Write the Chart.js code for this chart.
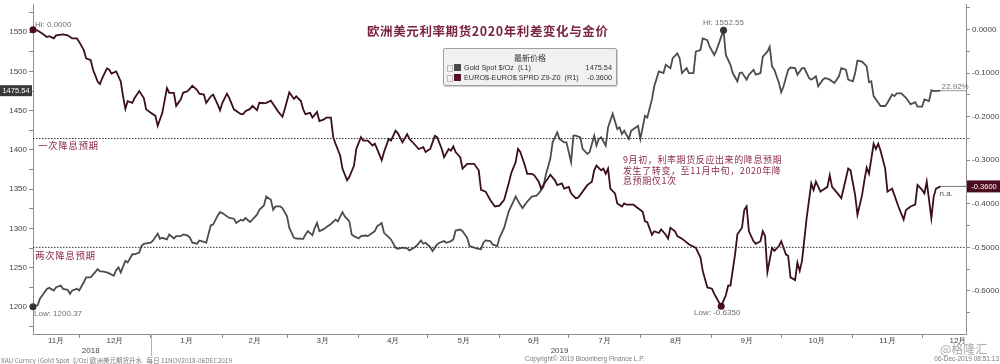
<!DOCTYPE html>
<html>
<head>
<meta charset="utf-8">
<script src="https://cdn.jsdelivr.net/npm/chart.js@4.4.1/dist/chart.umd.min.js"></script>
<style>
html, body { margin: 0; padding: 0; background: #fff; }
#wrap { position: relative; width: 1000px; height: 364px; overflow: hidden; font-family: "Liberation Sans", Arial, sans-serif; }
#chart { position: absolute; left: 0; top: 0; }
.t { position: absolute; white-space: nowrap; }
.cn { font-family: "Noto Sans CJK SC", sans-serif; }
#title { left: 367px; top: 21px; font-size: 12.5px; color: #7b2343; letter-spacing: 0.6px; font-weight: bold; }
#legend { position: absolute; left: 443px; top: 48px; width: 172px; height: 36px; background: #f1f1f1; border: 1px solid #a0a0a0; border-radius: 2px; box-shadow: 1px 1px 1px #ccc; font-size: 7.3px; color: #333; }
#legend .lh { position: absolute; left: 0; right: 0; top: 3px; text-align: center; font-family: "Noto Sans CJK SC", sans-serif; font-size: 8px; }
#legend .row { position: absolute; left: 3px; right: 4px; height: 10px; line-height: 10px; }
#legend .ic { position: absolute; left: 0; top: 2px; width: 4px; height: 5px; border: 1px solid #bbb; }
#legend .sq { position: absolute; left: 7px; top: 1px; width: 7px; height: 7px; }
#legend .lb { position: absolute; left: 17px; }
#legend .v { position: absolute; right: 0; }
.cut { font-size: 9.5px; color: #8b2b49; letter-spacing: 0.6px; }
#note { left: 623px; top: 155px; font-size: 9px; line-height: 10.5px; color: #8b2b49; letter-spacing: 0.6px; }
.foot { font-size: 6.5px; color: #7a7a7a; top: 355px; }
#mark { left: 940px; top: 340px; font-size: 12px; color: #a8a8a8; }
</style>
</head>
<body>
<div id="wrap">
  <canvas id="chart" width="1000" height="364"></canvas>
  <div class="t cn" id="title">欧洲美元利率期货2020年利差变化与金价</div>
  <div id="legend">
    <div class="lh">最新价格</div>
    <div class="row" style="top:14px"><span class="ic"></span><span class="sq" style="background:#4a4a4a"></span><span class="lb">Gold Spot $/Oz&nbsp; (L1)</span><span class="v" id="lastGold"></span></div>
    <div class="row" style="top:24px"><span class="ic"></span><span class="sq" style="background:#5a0f24"></span><span class="lb">EURO$-EURO$ SPRD Z9-Z0&nbsp; (R1)</span><span class="v" id="lastSpread"></span></div>
  </div>
  <div class="t cn cut" style="left:38px;top:138px">一次降息预期</div>
  <div class="t cn cut" style="left:35px;top:248px">两次降息预期</div>
  <div class="t cn" id="note">9月初，利率期货反应出来的降息预期<br>发生了转变，至11月中旬，2020年降<br>息预期仅1次</div>
  <div class="t foot cn" style="left:1px">XAU Curncy (Gold Spot&nbsp; $/Oz) 欧洲美元期货升水&nbsp;&nbsp; 每日 11NOV2018-06DEC2019</div>
  <div class="t foot" style="left:525px">Copyright© 2019 Bloomberg Finance L.P.</div>
  <div class="t foot" style="right:1px">06-Dec-2019 08:51:13</div>
  <div class="t cn" id="mark">@格隆汇</div>
</div>
<script>
// x values are days counted from 11 Nov 2018
const goldDays = [0,2,3,4,6,7,9,10,12,13,15,16,17,19,20,22,23,25,26,28,29,30,32,33,35,36,37,38,40,41,43,44,46,47,48,51,52,54,55,56,58,59,61,62,64,65,67,68,69,71,72,74,75,77,78,80,81,82,84,85,87,88,90,91,92,94,95,97,98,100,101,103,104,105,107,108,110,111,113,114,117,118,119,121,122,123,124,126,127,129,131,132,134,135,137,138,139,141,142,144,145,147,148,149,151,152,154,155,157,158,160,162,163,165,166,168,169,170,172,173,175,176,178,179,181,182,183,185,186,188,189,191,192,194,195,196,198,199,201,
  202,204,206,208,209,211,212,214,216,218,219,221,222,224,225,227,228,230,231,233,234,235,237,238,240,241,243,244,245,246,248,249,251,253,254,255,256,258,259,261,262,263,265,266,268,269,271,273,274,276,277,279,280,281,283,284,286,287,289,290,292,293,295,296,297,299,300,302,303,305,306,307,309,310,312,313,315,316,318,319,320,321,323,324,325,327,328,330,331,333,334,336,337,339,340,342,343,345,347,349,350,352,353,355,356,357,359,361,362,363,364,366,367,369,370,372,373,374,376,378,379,380,382,383,385,386,388,389,390,393];
const goldValues = [1200.37,1202.0,1210.4,1214.6,1223.0,1224.3,1220.9,1225.1,1227.2,1223.0,1221.7,1216.7,1220.9,1223.0,1220.9,1231.4,1237.7,1237.7,1241.1,1248.2,1245.3,1245.3,1244.0,1242.7,1239.8,1246.9,1250.3,1244.0,1258.7,1256.6,1267.1,1267.1,1269.2,1277.6,1280.5,1281.8,1284.7,1293.5,1286.8,1288.1,1286.0,1292.3,1287.2,1290.2,1290.2,1292.3,1291.0,1288.1,1281.8,1280.5,1284.7,1283.0,1281.8,1304.0,1304.9,1316.6,1320.8,1319.6,1315.4,1313.3,1312.4,1307.0,1311.2,1309.9,1313.3,1308.2,1311.2,1317.5,1323.8,1329.2,1340.6,1336.4,1323.8,1328.0,1328.0,1325.9,1315.4,1300.7,1288.1,1287.2,1286.8,1292.3,1296.5,1291.4,1300.7,1307.0,1296.5,1299.4,1301.5,1305.7,1311.2,1309.1,1320.8,1315.4,1309.1,1292.3,1290.2,1287.2,1290.2,1291.0,1290.2,1294.4,1296.5,1302.8,1307.0,1294.4,1288.9,1286.0,1275.5,1274.2,1275.5,1274.6,1272.1,1275.5,1277.6,1284.7,1280.5,1281.8,1276.3,1271.3,1279.7,1281.8,1283.9,1281.8,1283.9,1286.0,1297.3,1298.6,1296.5,1288.1,1277.6,1275.5,1274.6,1273.4,1281.8,1284.7,1283.9,1279.7,1277.6,
  1288.1,1300.7,1321.7,1334.3,1340.6,1330.1,1325.9,1334.3,1340.6,1341.8,1344.7,1353.1,1367.8,1388.8,1409.8,1422.4,1414.0,1409.8,1409.8,1384.6,1418.2,1418.2,1416.1,1401.4,1395.1,1397.2,1418.2,1405.6,1414.0,1416.1,1405.6,1428.7,1446.3,1426.6,1428.7,1420.3,1424.5,1414.0,1424.5,1428.7,1430.8,1414.0,1443.4,1441.3,1464.4,1481.2,1500.1,1498.0,1508.5,1504.3,1516.9,1523.2,1516.9,1498.0,1504.3,1498.0,1498.0,1525.3,1527.4,1542.1,1540.0,1531.6,1521.1,1527.4,1535.8,1552.55,1521.1,1508.5,1498.0,1487.5,1498.0,1498.8,1489.6,1495.9,1502.2,1495.9,1498.0,1519.0,1525.3,1531.6,1506.4,1502.2,1485.4,1473.6,1481.2,1502.2,1505.1,1504.3,1495.9,1504.3,1504.3,1491.7,1489.6,1493.8,1481.2,1489.6,1491.7,1489.6,1485.4,1493.8,1504.3,1502.2,1489.6,1487.5,1498.0,1513.9,1512.7,1506.4,1486.2,1487.5,1468.6,1460.2,1456.0,1456.0,1460.2,1470.7,1468.6,1472.0,1472.0,1466.5,1462.3,1458.1,1461.0,1455.2,1455.2,1464.4,1462.3,1476.2,1475.0,1475.54];

const spreadDays = [0,2,4,6,7,9,10,13,15,17,19,20,22,23,25,26,28,29,30,32,33,34,36,38,39,40,41,43,44,46,48,49,51,53,54,56,58,59,61,62,64,65,67,69,71,72,74,75,77,78,80,81,82,84,85,87,90,91,92,94,95,97,98,100,101,103,105,106,108,109,111,113,114,116,117,118,120,121,123,124,126,127,129,130,131,133,134,136,137,139,140,142,143,145,147,148,149,151,152,154,155,157,158,160,162,163,165,167,169,170,172,174,175,177,178,180,181,182,183,185,186,188,190,191,193,194,196,198,200,202,
  204,206,207,209,210,211,213,214,216,217,219,220,222,224,226,227,229,230,232,233,235,236,238,240,242,243,244,246,247,248,249,250,252,253,255,256,257,260,262,264,265,266,268,269,271,272,274,275,276,278,279,281,284,287,289,290,292,294,295,297,298,300,301,302,304,305,307,308,309,310,312,313,315,316,317,318,320,321,323,324,326,327,328,330,331,332,333,335,337,338,339,341,342,344,345,346,349,350,352,353,354,356,357,359,360,361,362,364,365,366,367,369,370,372,373,375,377,378,380,382,383,385,386,387,389,390,391,393];
const spreadValues = [0.000,-0.002,-0.009,-0.017,-0.015,-0.020,-0.013,-0.011,-0.013,-0.020,-0.020,-0.028,-0.047,-0.066,-0.070,-0.092,-0.119,-0.125,-0.111,-0.089,-0.092,-0.101,-0.096,-0.119,-0.153,-0.182,-0.164,-0.168,-0.157,-0.141,-0.157,-0.183,-0.191,-0.198,-0.221,-0.191,-0.134,-0.145,-0.145,-0.175,-0.160,-0.145,-0.141,-0.129,-0.138,-0.147,-0.149,-0.168,-0.153,-0.149,-0.172,-0.185,-0.168,-0.147,-0.157,-0.183,-0.194,-0.194,-0.187,-0.182,-0.175,-0.185,-0.168,-0.169,-0.168,-0.163,-0.179,-0.187,-0.200,-0.183,-0.144,-0.159,-0.153,-0.164,-0.183,-0.194,-0.191,-0.202,-0.189,-0.210,-0.206,-0.202,-0.202,-0.247,-0.262,-0.289,-0.319,-0.346,-0.338,-0.312,-0.274,-0.247,-0.255,-0.255,-0.266,-0.262,-0.274,-0.300,-0.281,-0.251,-0.255,-0.232,-0.238,-0.259,-0.240,-0.251,-0.262,-0.274,-0.270,-0.281,-0.274,-0.244,-0.247,-0.274,-0.293,-0.274,-0.278,-0.268,-0.281,-0.293,-0.319,-0.308,-0.308,-0.308,-0.323,-0.368,-0.372,-0.391,-0.406,-0.404,
  -0.391,-0.353,-0.331,-0.304,-0.274,-0.281,-0.312,-0.331,-0.331,-0.334,-0.349,-0.365,-0.349,-0.333,-0.346,-0.357,-0.353,-0.365,-0.361,-0.376,-0.387,-0.386,-0.372,-0.357,-0.349,-0.323,-0.312,-0.323,-0.319,-0.331,-0.319,-0.365,-0.376,-0.399,-0.406,-0.399,-0.402,-0.402,-0.410,-0.418,-0.440,-0.442,-0.471,-0.463,-0.467,-0.459,-0.471,-0.480,-0.455,-0.463,-0.474,-0.480,-0.493,-0.501,-0.523,-0.554,-0.592,-0.595,-0.607,-0.626,-0.635,-0.610,-0.588,-0.588,-0.516,-0.470,-0.455,-0.414,-0.406,-0.463,-0.486,-0.492,-0.486,-0.463,-0.474,-0.557,-0.501,-0.508,-0.497,-0.486,-0.516,-0.520,-0.569,-0.575,-0.535,-0.554,-0.531,-0.433,-0.353,-0.368,-0.349,-0.372,-0.368,-0.361,-0.334,-0.361,-0.380,-0.387,-0.342,-0.319,-0.323,-0.380,-0.425,-0.380,-0.346,-0.317,-0.331,-0.262,-0.274,-0.262,-0.278,-0.319,-0.372,-0.365,-0.380,-0.410,-0.436,-0.414,-0.406,-0.402,-0.357,-0.368,-0.376,-0.349,-0.433,-0.384,-0.365,-0.360];

// rate cut expectations on the spread axis
const oneCut = -0.25;
const twoCuts = -0.50;

const monthStarts = [20, 51, 82, 110, 141, 171, 202, 232, 263, 294, 324, 355, 385];
const monthCenters = [10, 35.5, 66.5, 96, 125.5, 156, 186.5, 217, 247.5, 278.5, 309, 339.5, 370, 400.5];
const monthLabels = ['11月', '12月', '1月', '2月', '3月', '4月', '5月', '6月', '7月', '8月', '9月', '10月', '11月', '12月'];
const yearCenters = [25, 228];
const yearLabels = ['2018', '2019'];
const yearStart = 51;

const goldTicks = [1175,1200,1225,1250,1275,1300,1325,1350,1375,1400,1425,1450,1475,1500,1525,1550,1575];
const spreadTicks = [0.05,0,-0.05,-0.1,-0.15,-0.2,-0.25,-0.3,-0.35,-0.4,-0.45,-0.5,-0.55,-0.6,-0.65];

const xMax = 404;
const goldMin = 1165.5, goldMax = 1586;
const spreadMin = -0.699, spreadMax = 0.059;

const GOLD = '#4d4d4d';
const SPREAD = '#3a0e1b';
const AXIS = '#8c8c8c';
const FONT = '"Liberation Sans", Arial, sans-serif';

const goldData = goldDays.map((d, i) => ({x: d, y: goldValues[i]}));
const spreadData = spreadDays.map((d, i) => ({x: d, y: spreadValues[i]}));
const goldHi = goldValues.indexOf(Math.max(...goldValues));
const goldLo = goldValues.indexOf(Math.min(...goldValues));
const spreadHi = spreadValues.indexOf(Math.max(...spreadValues));
const spreadLo = spreadValues.indexOf(Math.min(...spreadValues));
const goldLast = goldValues[goldValues.length - 1];
const spreadLast = spreadValues[spreadValues.length - 1];
const lastDay = goldDays[goldDays.length - 1];

document.getElementById('lastGold').textContent = goldLast.toFixed(2);
document.getElementById('lastSpread').textContent = spreadLast.toFixed(4);

function noPad(s) {
    s.paddingTop = 0; s.paddingBottom = 0; s.paddingLeft = 0; s.paddingRight = 0;
}

const marks = {
    id: 'marks',
    afterDraw(chart) {
        const {ctx, chartArea} = chart;
        const x = chart.scales.x, y = chart.scales.y, y2 = chart.scales.y2;
        ctx.save();
        ctx.font = '8px ' + FONT;
        ctx.fillStyle = '#707070';
        ctx.textBaseline = 'middle';

        // hi / low captions
        ctx.textAlign = 'left';
        ctx.fillText('Hi: ' + spreadValues[spreadHi].toFixed(4), x.getPixelForValue(spreadDays[spreadHi]) + 2, y2.getPixelForValue(spreadValues[spreadHi]) - 5);
        ctx.fillText('Low: ' + goldValues[goldLo].toFixed(2), x.getPixelForValue(goldDays[goldLo]) + 1, y.getPixelForValue(goldValues[goldLo]) + 7);
        ctx.textAlign = 'center';
        ctx.fillText('Hi: ' + goldValues[goldHi].toFixed(2), x.getPixelForValue(goldDays[goldHi]), y.getPixelForValue(goldValues[goldHi]) - 7);
        ctx.fillText('Low: ' + spreadValues[spreadLo].toFixed(4), x.getPixelForValue(spreadDays[spreadLo]) - 4, y2.getPixelForValue(spreadValues[spreadLo]) + 7);

        // end captions
        ctx.textAlign = 'left';
        const pct = (goldLast / goldValues[0] - 1) * 100;
        ctx.fillText(pct.toFixed(2) + '%', x.getPixelForValue(lastDay) + 1, y.getPixelForValue(goldLast) - 4);
        ctx.fillStyle = '#555';
        ctx.fillText('n.a.', x.getPixelForValue(lastDay) - 1, y2.getPixelForValue(spreadLast) + 7);

        // last value badges
        ctx.font = '7.5px ' + FONT;
        let py = y.getPixelForValue(goldLast);
        ctx.fillStyle = '#3a3a3a';
        ctx.fillRect(0, py - 5.5, chartArea.left - 1, 11);
        ctx.fillStyle = '#fff';
        ctx.textAlign = 'center';
        ctx.fillText(goldLast.toFixed(2), (chartArea.left - 1) / 2, py + 0.5);
        py = y2.getPixelForValue(spreadLast);
        ctx.fillStyle = '#4d0d1f';
        ctx.fillRect(chartArea.right + 1, py - 6, chart.width - chartArea.right - 1, 12);
        ctx.fillStyle = '#fff';
        ctx.fillText(spreadLast.toFixed(4), (chartArea.right + chart.width) / 2 + 1, py + 0.5);

        // year separator
        const sx = Math.round(x.getPixelForValue(yearStart)) + 0.5;
        ctx.strokeStyle = '#b0b0b0';
        ctx.lineWidth = 1;
        ctx.beginPath();
        ctx.moveTo(sx, chartArea.bottom);
        ctx.lineTo(sx, chartArea.bottom + 22);
        ctx.stroke();
        ctx.restore();
    }
};

new Chart(document.getElementById('chart'), {
    type: 'line',
    data: {
        datasets: [{
            label: 'Gold Spot $/Oz',
            data: goldData,
            yAxisID: 'y',
            borderColor: GOLD,
            backgroundColor: '#333',
            borderWidth: 1.8,
            pointRadius: c => (c.dataIndex === goldHi || c.dataIndex === goldLo) ? 3.5 : 0,
            pointBorderWidth: 0,
            clip: 6,
            order: 2
        }, {
            label: 'EURO$-EURO$ SPRD Z9-Z0',
            data: spreadData,
            yAxisID: 'y2',
            borderColor: SPREAD,
            backgroundColor: '#4a0d1d',
            borderWidth: 1.8,
            pointRadius: c => (c.dataIndex === spreadHi || c.dataIndex === spreadLo) ? 3.5 : 0,
            pointBorderWidth: 0,
            clip: 6,
            order: 1
        }, {
            data: [{x: 0, y: oneCut}, {x: xMax, y: oneCut}],
            yAxisID: 'y2',
            borderColor: '#333',
            borderWidth: 1,
            borderDash: [1.5, 1.5],
            pointRadius: 0
        }, {
            data: [{x: 0, y: twoCuts}, {x: xMax, y: twoCuts}],
            yAxisID: 'y2',
            borderColor: '#333',
            borderWidth: 1,
            borderDash: [1.5, 1.5],
            pointRadius: 0
        }, {
            data: [{x: lastDay, y: goldLast}, {x: xMax, y: goldLast}],
            yAxisID: 'y',
            borderColor: '#9a9a9a',
            borderWidth: 1,
            pointRadius: 0
        }, {
            data: [{x: lastDay, y: spreadLast}, {x: xMax, y: spreadLast}],
            yAxisID: 'y2',
            borderColor: '#777',
            borderWidth: 1,
            pointRadius: 0
        }]
    },
    options: {
        responsive: false,
        animation: false,
        devicePixelRatio: 1,
        layout: { padding: 0 },
        plugins: { legend: { display: false }, tooltip: { enabled: false }, title: { display: false } },
        scales: {
            x: {
                type: 'linear', position: 'bottom', min: 0, max: xMax, weight: 0,
                afterBuildTicks: s => {
                    s.ticks = monthStarts.map(v => ({value: v})).concat(monthCenters.map(v => ({value: v})));
                },
                afterFit: s => { s.height = 12; noPad(s); },
                ticks: {
                    autoSkip: false, maxRotation: 0, padding: -2,
                    color: '#444', font: { family: FONT, size: 8 },
                    callback: v => { const i = monthCenters.indexOf(v); return i >= 0 ? monthLabels[i] : ''; }
                },
                grid: {
                    drawOnChartArea: false, tickLength: 4, tickWidth: 1,
                    tickColor: c => (c.tick && monthStarts.includes(c.tick.value)) ? AXIS : 'rgba(0,0,0,0)'
                },
                border: { color: AXIS, width: 1 }
            },
            x2: {
                type: 'linear', position: 'bottom', min: 0, max: xMax, weight: 1,
                afterBuildTicks: s => { s.ticks = yearCenters.map(v => ({value: v})); },
                afterFit: s => { s.height = 18; noPad(s); },
                ticks: {
                    autoSkip: false, maxRotation: 0, padding: 0,
                    color: '#444', font: { family: FONT, size: 8 },
                    callback: v => yearLabels[yearCenters.indexOf(v)]
                },
                grid: { display: false, drawTicks: false },
                border: { display: false }
            },
            y: {
                type: 'linear', position: 'left', min: goldMin, max: goldMax,
                afterBuildTicks: s => { s.ticks = goldTicks.map(v => ({value: v})); },
                afterFit: s => { s.width = 33; noPad(s); },
                ticks: {
                    padding: 2, color: '#444', font: { family: FONT, size: 8 },
                    callback: v => v % 50 === 0 ? String(v) : ''
                },
                grid: { drawOnChartArea: false, tickLength: 4, tickColor: AXIS },
                border: { color: AXIS, width: 1 }
            },
            y2: {
                type: 'linear', position: 'right', min: spreadMin, max: spreadMax,
                afterBuildTicks: s => { s.ticks = spreadTicks.map(v => ({value: v})); },
                afterFit: s => { s.width = 34; noPad(s); },
                ticks: {
                    padding: 2, color: '#444', font: { family: FONT, size: 8 },
                    callback: v => {
                        const r = Math.round(v * 100);
                        return (r % 10 === 0 && v <= 0) ? (r === 0 ? '0.0000' : v.toFixed(4)) : '';
                    }
                },
                grid: { drawOnChartArea: false, tickLength: 4, tickColor: AXIS },
                border: { color: AXIS, width: 1 }
            }
        }
    },
    plugins: [marks]
});
</script>
</body>
</html>
